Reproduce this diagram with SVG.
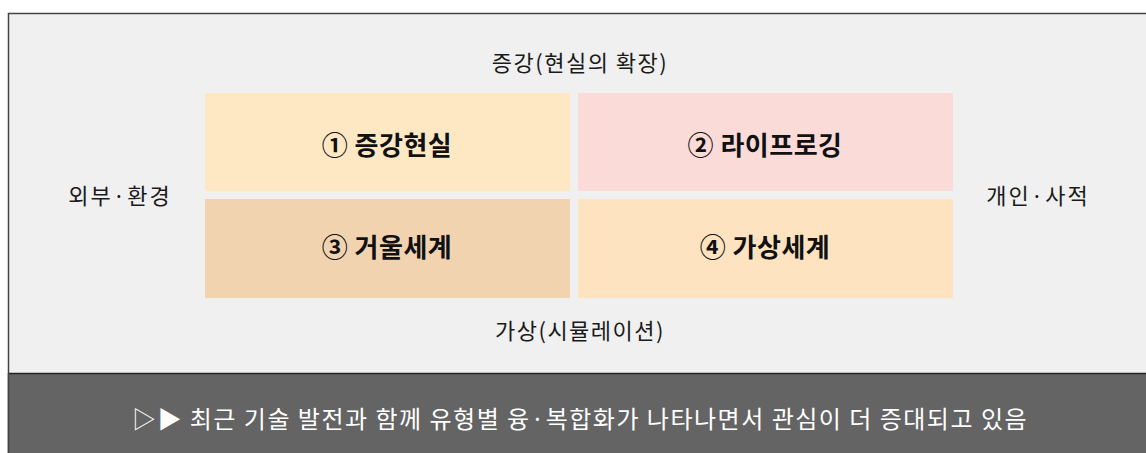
<svg xmlns="http://www.w3.org/2000/svg" width="1146" height="453" viewBox="0 0 1146 453">
<style>
.lbl{font-family:"Noto Sans CJK KR","Noto Sans",sans-serif;font-size:22px;fill:#1a1a1a;text-anchor:middle;letter-spacing:1.5px}
.side{letter-spacing:2px}
.cell{font-family:"Noto Sans CJK KR","Noto Sans",sans-serif;font-size:26px;font-weight:bold;fill:#111;text-anchor:middle;letter-spacing:0.5px}
.note{font-family:"Noto Sans CJK KR","Noto Sans",sans-serif;font-size:24px;fill:#fff;text-anchor:middle;letter-spacing:1.5px}
</style>
<rect x="0" y="0" width="1146" height="453" fill="#ffffff"/>
<rect x="8.5" y="13.5" width="1140" height="450" fill="#eff0ef" stroke="#444" stroke-width="1.5"/>
<g id="axis-top"><text class="lbl" x="580" y="71">증강(현실의 확장)</text></g>
<g id="axis-bottom"><text class="lbl" x="580" y="339">가상(시뮬레이션)</text></g>
<g id="axis-left"><text class="lbl side" x="120" y="204">외부·환경</text></g>
<g id="axis-right"><text class="lbl side" x="1038" y="204">개인·사적</text></g>
<g id="cell1"><rect x="205" y="93" width="365" height="98" fill="#fee8c4"/><text class="cell" x="387" y="155">① 증강현실</text></g>
<g id="cell2"><rect x="578" y="93" width="375" height="98" fill="#fadbd8"/><text class="cell" x="765" y="155">② 라이프로깅</text></g>
<g id="cell3"><rect x="205" y="199" width="365" height="99" fill="#f2d3b0"/><text class="cell" x="387" y="257">③ 거울세계</text></g>
<g id="cell4"><rect x="578" y="199" width="375" height="99" fill="#fde3bf"/><text class="cell" x="765" y="257">④ 가상세계</text></g>
<g id="connectors"></g>
<g id="note">
<rect x="8" y="373" width="1140" height="82" fill="#646464"/>
<line x1="8" y1="373.5" x2="1146" y2="373.5" stroke="#222" stroke-width="1.5"/>
<line x1="8.5" y1="373" x2="8.5" y2="453" stroke="#444" stroke-width="1.5"/>
<text class="note" x="580" y="428">▷▶ 최근 기술 발전과 함께 유형별 융·복합화가 나타나면서 관심이 더 증대되고 있음</text>
</g>
</svg>
